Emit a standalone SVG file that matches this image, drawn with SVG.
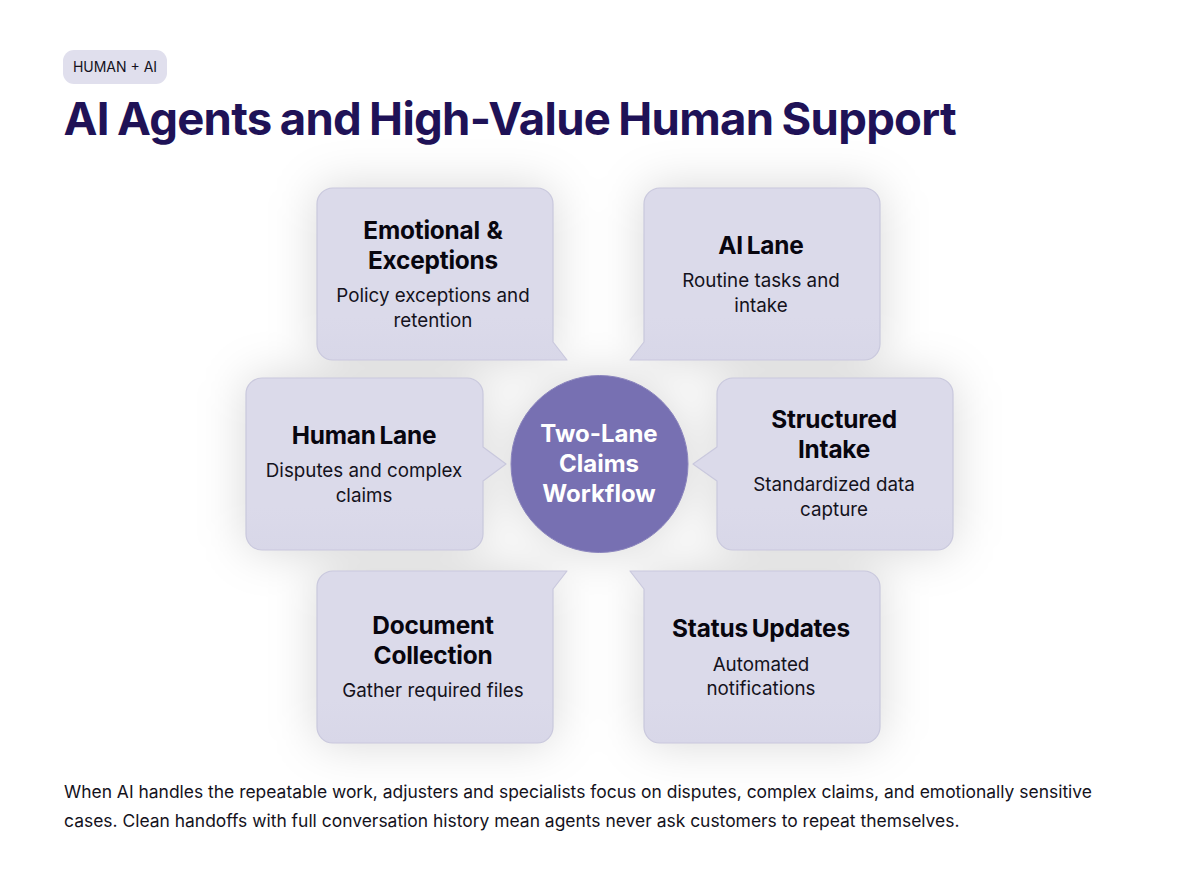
<svg xmlns="http://www.w3.org/2000/svg" width="1200" height="885" viewBox="0 0 1200 885">
<style>
text{font-family:Inter,"Liberation Sans",sans-serif}
.card{fill:url(#cardfill);stroke:#c9c8dd;stroke-width:1.2;stroke-linejoin:round}
.h{font-size:24.400px;font-weight:700;fill:#08060f;text-anchor:middle;letter-spacing:-.2px;word-spacing:-1.800px}
.s{font-size:18.800px;font-weight:400;fill:#14121c;text-anchor:middle}
.c{font-size:24px;font-weight:700;fill:#fff;text-anchor:middle}
</style>
<defs>
<linearGradient id="cardfill" x1="0" y1="0" x2="0" y2="1"><stop offset="0" stop-color="#dbdaea"/><stop offset=".75" stop-color="#dbdaea"/><stop offset="1" stop-color="#d8d7e8"/></linearGradient>
<filter id="sh" x="-30%" y="-30%" width="160%" height="160%" filterUnits="objectBoundingBox"><feGaussianBlur stdDeviation="24"/></filter>
</defs>
<rect width="1200" height="885" fill="#fff"/>
<g id="shadow" filter="url(#sh)" fill="#000" fill-opacity=".16">
<rect x="317" y="188" width="236" height="172" rx="16"/>
<rect x="644" y="188" width="236" height="172" rx="16"/>
<rect x="246" y="378" width="237" height="172" rx="16"/>
<rect x="717" y="378" width="236" height="172" rx="16"/>
<rect x="317" y="571" width="236" height="172" rx="16"/>
<rect x="644" y="571" width="236" height="172" rx="16"/>
<circle cx="599.5" cy="464" r="89"/>
</g>
<g id="badge"><rect x="63" y="50" width="104" height="34" rx="11" fill="#e0dfed"/><text x="115" y="71.500" font-size="14" fill="#14121c" text-anchor="middle">HUMAN + AI</text></g>
<text id="title" x="63.500" y="135" font-size="45.500" font-weight="700" fill="#1f1257" letter-spacing="-.7" word-spacing="-2">AI Agents and High-Value Human Support</text>
<g id="connectors"/>
<g id="node-emotional"><path class="card" d="M333 188H537a16 16 0 0 1 16 16V342L567 360H333a16 16 0 0 1-16-16V204a16 16 0 0 1 16-16Z"/><text class="h" x="433" y="239" style="word-spacing:1px">Emotional &amp;</text><text class="h" x="433" y="269">Exceptions</text><text class="s" x="433" y="302">Policy exceptions and</text><text class="s" x="433" y="326.500">retention</text></g>
<g id="node-ai-lane"><path class="card" d="M660 188H864a16 16 0 0 1 16 16V344a16 16 0 0 1-16 16H630L644 342V204a16 16 0 0 1 16-16Z"/><text class="h" x="761" y="254">AI Lane</text><text class="s" x="761" y="287">Routine tasks and</text><text class="s" x="761" y="311.500">intake</text></g>
<g id="node-human-lane"><path class="card" d="M262 378H467a16 16 0 0 1 16 16V447L506 464L483 481V534a16 16 0 0 1-16 16H262a16 16 0 0 1-16-16V394a16 16 0 0 1 16-16Z"/><text class="h" x="364" y="444">Human Lane</text><text class="s" x="364" y="477">Disputes and complex</text><text class="s" x="364" y="501.500">claims</text></g>
<g id="node-structured"><path class="card" d="M733 378H937a16 16 0 0 1 16 16V534a16 16 0 0 1-16 16H733a16 16 0 0 1-16-16V481L693 464L717 447V394a16 16 0 0 1 16-16Z"/><text class="h" x="834" y="428">Structured</text><text class="h" x="834" y="458">Intake</text><text class="s" x="834" y="491">Standardized data</text><text class="s" x="834" y="515.500">capture</text></g>
<g id="node-document"><path class="card" d="M317 587a16 16 0 0 1 16-16H567L553 589V727a16 16 0 0 1-16 16H333a16 16 0 0 1-16-16Z"/><text class="h" x="433" y="634">Document</text><text class="h" x="433" y="664">Collection</text><text class="s" x="433" y="697">Gather required files</text></g>
<g id="node-status"><path class="card" d="M630 571H864a16 16 0 0 1 16 16V727a16 16 0 0 1-16 16H660a16 16 0 0 1-16-16V589Z"/><text class="h" x="761" y="637">Status Updates</text><text class="s" x="761" y="670.500">Automated</text><text class="s" x="761" y="695">notifications</text></g>
<g id="node-center"><circle cx="599.5" cy="464" r="88.500" fill="#7770b2" stroke="#8a84bd"/><text class="c" x="599" y="442">Two-Lane</text><text class="c" x="599" y="472">Claims</text><text class="c" x="599" y="502">Workflow</text></g>
<g id="footer" font-size="17.450" fill="#14121c"><text x="64" y="798">When AI handles the repeatable work, adjusters and specialists focus on disputes, complex claims, and emotionally sensitive</text><text x="64" y="827">cases. Clean handoffs with full conversation history mean agents never ask customers to repeat themselves.</text></g>
</svg>
